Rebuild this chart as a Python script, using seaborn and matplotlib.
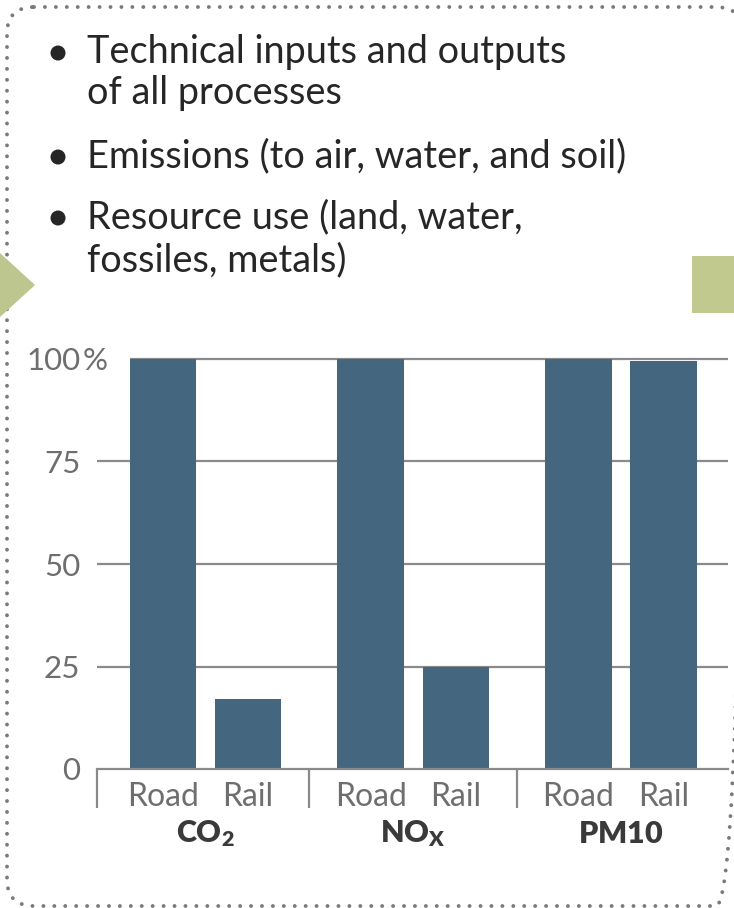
import pandas as pd
import matplotlib
matplotlib.use('Agg')
import matplotlib.pyplot as plt
from matplotlib import font_manager
from matplotlib.patches import FancyBboxPatch, Polygon, Circle, Rectangle
import seaborn as sns

# chart data
pollutants = ['CO2', 'NOx', 'PM10']
pollutant_labels = [r'$\mathbf{CO_2}$', r'$\mathbf{NO_X}$', r'$\mathbf{PM10}$']
modes = ['Road', 'Rail']
road_share = [100, 100, 100]
rail_share = [17, 25, 99.5]
y_ticks = [0, 25, 50, 75, 100]
bullet_items = [['Technical inputs and outputs', 'of all processes'],
                ['Emissions (to air, water, and soil)'],
                ['Resource use (land, water,', 'fossiles, metals)']]

df = pd.DataFrame({
    'pollutant': pollutants * 2,
    'mode': [modes[0]] * len(pollutants) + [modes[1]] * len(pollutants),
    'share': road_share + rail_share,
})

# fonts / colours
names = {f.name for f in font_manager.fontManager.ttflist}
main_font = 'Lato' if 'Lato' in names else 'DejaVu Sans'

sns.set_theme(style='white')
plt.rcParams['font.family'] = [main_font, 'DejaVu Sans']
plt.rcParams['mathtext.fontset'] = 'custom'
plt.rcParams['mathtext.rm'] = main_font
plt.rcParams['mathtext.bf'] = main_font + ':heavy'

bar_c = '#44667f'
grid_c = '#8a8a8a'
tick_c = '#6e6e6e'
text_c = '#262626'

W, H = 734, 908
fig = plt.figure(figsize=(W / 100, H / 100), dpi=100)

# background layer in pixel units
bg = fig.add_axes([0, 0, 1, 1], zorder=0)
bg.set_xlim(0, W)
bg.set_ylim(H, 0)
bg.axis('off')

border = FancyBboxPatch((7, 7), 736, 899, boxstyle='round,pad=0,rounding_size=27',
                        fill=False, ec='#7a7a7a', lw=2.8, ls=(0, (0.01, 2.8)), clip_on=False)
border.set_capstyle('round')
bg.add_patch(border)
bg.add_patch(Polygon([(0, 253), (35, 285), (0, 317)], closed=True, color='#bdc68e', lw=0))
bg.add_patch(Rectangle((692, 256), 50, 57, color='#c1c98f', lw=0))

# bulleted header
gaps = [[0, 41], [0], [0, 43]]
starts = [63, 167, 228]
for item, y0, g in zip(bullet_items, starts, gaps):
    bg.add_patch(Circle((58, y0 - 10), 7.5, color=text_c, lw=0))
    for line, dy in zip(item, g):
        bg.text(87, y0 + dy, line, fontsize=27.3, color=text_c, va='baseline', ha='left')

# bar chart
xl, xr = -0.522, 2.515
ax = fig.add_axes([97 / W, (H - 769) / H, (728 - 97) / W, 102 * 4.1 / H], zorder=1)
ax.patch.set_alpha(0)

sns.barplot(data=df, x='pollutant', y='share', hue='mode', hue_order=modes,
            palette=[bar_c, bar_c], saturation=1, width=0.82, gap=0.22,
            legend=False, ax=ax, zorder=2, linewidth=0)

ax.set_xlim(xl, xr)
ax.set_ylim(0, 102)

centers, labels = [], []
for mode, cont in zip(modes, ax.containers):
    for bar in cont:
        centers.append(bar.get_x() + bar.get_width() / 2)
        labels.append(mode)
first_left = min(b.get_x() for b in ax.containers[0])

ax.hlines(y_ticks[1:-1], xl, xr, color=grid_c, lw=1.6, zorder=1)
ax.hlines(y_ticks[-1], first_left, xr, color=grid_c, lw=1.6, zorder=1)

for s in ['top', 'right', 'left']:
    ax.spines[s].set_visible(False)
ax.spines['bottom'].set_color(grid_c)
ax.spines['bottom'].set_linewidth(1.6)

ax.set_yticks(y_ticks, [str(v) for v in y_ticks])
ax.tick_params(axis='y', left=False, length=0, pad=12, labelsize=22.5, labelcolor=tick_c)
ax.annotate('%', xy=(0, y_ticks[-1]), xycoords=('axes fraction', 'data'),
            xytext=(-10, 0), textcoords='offset points', ha='left',
            va='center_baseline', fontsize=22.5, color=tick_c)

ax.set_xticks(centers, labels)
ax.set_xticks([xl, 0.5, 1.5], minor=True)
ax.tick_params(axis='x', which='major', bottom=False, length=0, pad=9,
               labelsize=23, labelcolor=tick_c)
ax.tick_params(axis='x', which='minor', bottom=True, length=28, width=1.6,
               color=grid_c, direction='out')

for i, lab in enumerate(pollutant_labels):
    ax.annotate(lab, xy=(i, 0), xycoords='data', xytext=(0, -53),
                textcoords='offset points', ha='center', va='baseline',
                fontsize=22, color='#3a3a3a')

ax.set_xlabel('')
ax.set_ylabel('')

fig.savefig('out.png', dpi=100, facecolor='white')
